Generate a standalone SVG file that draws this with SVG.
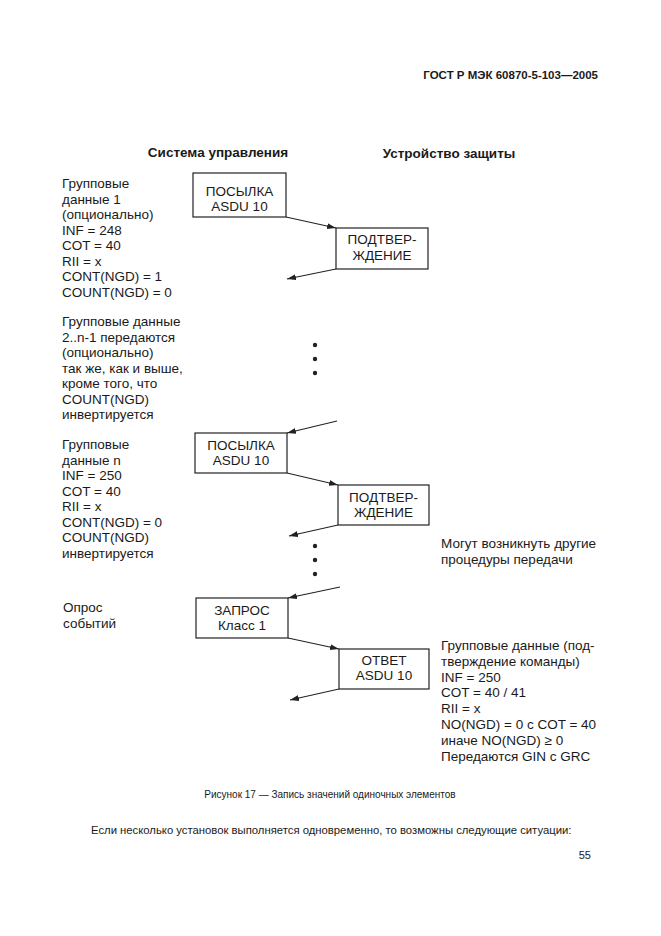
<svg xmlns="http://www.w3.org/2000/svg" width="661" height="936" viewBox="0 0 661 936">
<style>
text{font-family:"Liberation Sans",Arial,sans-serif;fill:#1a1a1a}
.t{font-size:13.5px}
.b{font-size:13.5px;font-weight:bold}
.c{text-anchor:middle}
.box{fill:none;stroke:#222;stroke-width:1.2}
.ln{stroke:#222;stroke-width:1.1;fill:none;marker-end:url(#ah)}
.dot{fill:#222}
</style>
<defs>
<marker id="ah" markerUnits="userSpaceOnUse" markerWidth="10" markerHeight="7" refX="9" refY="3" orient="auto">
<path d="M0,0 L9,3 L0,6 z" fill="#222"/>
</marker>
</defs>
<rect width="661" height="936" fill="#fff"/>
<text x="598" y="79" style="font-size:11.5px;font-weight:bold;text-anchor:end">ГОСТ Р МЭК 60870-5-103—2005</text>
<text x="218" y="157" class="b c">Система управления</text>
<text x="449" y="158" class="b c">Устройство защиты</text>

<g id="left1">
<text x="62" y="188" class="t">Групповые</text>
<text x="62" y="203.5" class="t">данные 1</text>
<text x="62" y="219" class="t">(опционально)</text>
<text x="62" y="234.5" class="t">INF = 248</text>
<text x="62" y="250" class="t">COT = 40</text>
<text x="62" y="265.5" class="t">RII = x</text>
<text x="62" y="281" class="t">CONT(NGD) = 1</text>
<text x="62" y="296.5" class="t">COUNT(NGD) = 0</text>
</g>
<g id="left2">
<text x="62" y="326" class="t">Групповые данные</text>
<text x="62" y="341.5" class="t">2..n-1 передаются</text>
<text x="62" y="357" class="t">(опционально)</text>
<text x="62" y="372.5" class="t">так же, как и выше,</text>
<text x="62" y="388" class="t">кроме того, что</text>
<text x="62" y="403.5" class="t">COUNT(NGD)</text>
<text x="62" y="419" class="t">инвертируется</text>
</g>
<g id="left3">
<text x="62" y="449" class="t">Групповые</text>
<text x="62" y="464.5" class="t">данные n</text>
<text x="62" y="480" class="t">INF = 250</text>
<text x="62" y="495.5" class="t">COT = 40</text>
<text x="62" y="511" class="t">RII = x</text>
<text x="62" y="526.5" class="t">CONT(NGD) = 0</text>
<text x="62" y="542" class="t">COUNT(NGD)</text>
<text x="62" y="557.5" class="t">инвертируется</text>
</g>
<g id="left4">
<text x="63" y="612" class="t">Опрос</text>
<text x="63" y="627.5" class="t">событий</text>
</g>
<g id="right1">
<text x="441" y="548" class="t">Могут возникнуть другие</text>
<text x="441" y="563.5" class="t">процедуры передачи</text>
</g>
<g id="right2">
<text x="441" y="650" class="t">Групповые данные (под-</text>
<text x="441" y="665.8" class="t">тверждение команды)</text>
<text x="441" y="681.6" class="t">INF = 250</text>
<text x="441" y="697.4" class="t">COT = 40 / 41</text>
<text x="441" y="713.2" class="t">RII = x</text>
<text x="441" y="729" class="t">NO(NGD) = 0 с COT = 40</text>
<text x="441" y="744.8" class="t">иначе NO(NGD) ≥ 0</text>
<text x="441" y="760.6" class="t">Передаются GIN с GRC</text>
</g>

<g id="n1"><rect x="193" y="173" width="93" height="44" class="box"/>
<text x="239.5" y="196" class="t c">ПОСЫЛКА</text><text x="239.5" y="211" class="t c">ASDU 10</text></g>
<g id="n2"><rect x="336" y="228" width="92" height="41" class="box"/>
<text x="382" y="243.5" class="t c">ПОДТВЕР-</text><text x="382" y="259.5" class="t c">ЖДЕНИЕ</text></g>
<g id="n3"><rect x="195" y="433" width="92" height="40" class="box"/>
<text x="241" y="450" class="t c">ПОСЫЛКА</text><text x="241" y="465" class="t c">ASDU 10</text></g>
<g id="n4"><rect x="338" y="485" width="91" height="40" class="box"/>
<text x="383.5" y="502" class="t c">ПОДТВЕР-</text><text x="383.5" y="517" class="t c">ЖДЕНИЕ</text></g>
<g id="n5"><rect x="196" y="598" width="92" height="40" class="box"/>
<text x="242" y="615" class="t c">ЗАПРОС</text><text x="242" y="629.5" class="t c">Класс 1</text></g>
<g id="n6"><rect x="339" y="649" width="90" height="40" class="box"/>
<text x="384" y="665" class="t c">ОТВЕТ</text><text x="384" y="679.5" class="t c">ASDU 10</text></g>

<g id="dots">
<circle cx="315" cy="345" r="2.2" class="dot"/>
<circle cx="315" cy="359" r="2.2" class="dot"/>
<circle cx="315" cy="373" r="2.2" class="dot"/>
<circle cx="315" cy="546" r="2.2" class="dot"/>
<circle cx="315" cy="560" r="2.2" class="dot"/>
<circle cx="315" cy="574" r="2.2" class="dot"/>
</g>

<g id="connectors">
<line x1="286" y1="217" x2="336" y2="228" class="ln"/>
<line x1="336" y1="269" x2="287" y2="279" class="ln"/>
<line x1="337" y1="421" x2="287" y2="433" class="ln"/>
<line x1="287" y1="473" x2="338" y2="485" class="ln"/>
<line x1="338" y1="525" x2="289" y2="536" class="ln"/>
<line x1="340" y1="587" x2="288" y2="598" class="ln"/>
<line x1="288" y1="638" x2="339" y2="649" class="ln"/>
<line x1="339" y1="689" x2="290" y2="700" class="ln"/>
</g>

<text x="330" y="798" style="font-size:10px;text-anchor:middle">Рисунок 17 — Запись значений одиночных элементов</text>
<text x="91" y="834" style="font-size:11.3px">Если несколько установок выполняется одновременно, то возможны следующие ситуации:</text>
<text x="591" y="859" style="font-size:11px;text-anchor:end">55</text>
</svg>
